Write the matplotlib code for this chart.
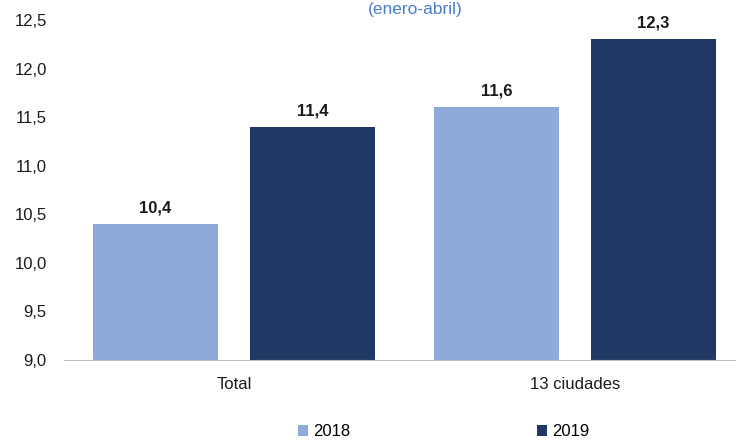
import numpy as np
import matplotlib.pyplot as plt
from matplotlib.ticker import FuncFormatter

plt.rcParams['font.family'] = ['Liberation Sans', 'DejaVu Sans']

## Data:
categories = ["Total", "13 ciudades"]
years = ["2018", "2019"]
values_2018 = [10.4, 11.6]
values_2019 = [11.4, 12.3]

c2018 = "#8eaadb"
c2019 = "#203864"

fig = plt.figure(figsize=(7.36, 4.41), dpi=100)
ax = fig.add_axes([63.5 / 736, 1 - 360 / 441, 682 / 736, 340 / 441])

x = np.arange(len(categories))
w = 0.367
off = 0.23
b1 = ax.bar(x - off, values_2018, w, color=c2018, label=years[0])
b2 = ax.bar(x + off, values_2019, w, color=c2019, label=years[1])

for bars, vals in [(b1, values_2018), (b2, values_2019)]:
    for b, v in zip(bars, vals):
        ax.text(b.get_x() + b.get_width() / 2, v + 0.09, f"{v:.1f}".replace(".", ","),
                ha="center", va="bottom", fontsize=12, fontweight="bold", color="#1a1a1a")

ax.set_xlim(-0.5, 1.5)
ax.set_ylim(9.0, 12.5)
ax.set_yticks(np.arange(9.0, 12.51, 0.5))
ax.yaxis.set_major_formatter(FuncFormatter(lambda v, p: f"{v:.1f}".replace(".", ",")))
ax.set_xticks(x)
ax.set_xticklabels(categories)
ax.tick_params(axis="both", length=0, labelsize=12, colors="#1a1a1a")
ax.tick_params(axis="x", pad=12)
ax.tick_params(axis="y", pad=12)
for s in ["top", "right", "left"]:
    ax.spines[s].set_visible(False)
ax.spines["bottom"].set_color("#bfbfbf")

fig.text(415 / 736, 1 - 2 / 441, "(enero-abril)", ha="center", va="top",
         fontsize=12.5, color="#4a7ec8")

# legend
fig.legend(handles=[b1, b2], loc="center", bbox_to_anchor=(444 / 736, 1 - 432 / 441),
           ncol=2, frameon=False, fontsize=12, handlelength=0.6, handleheight=0.6,
           handletextpad=0.3, columnspacing=11.2)

fig.savefig("out.png", dpi=100)
